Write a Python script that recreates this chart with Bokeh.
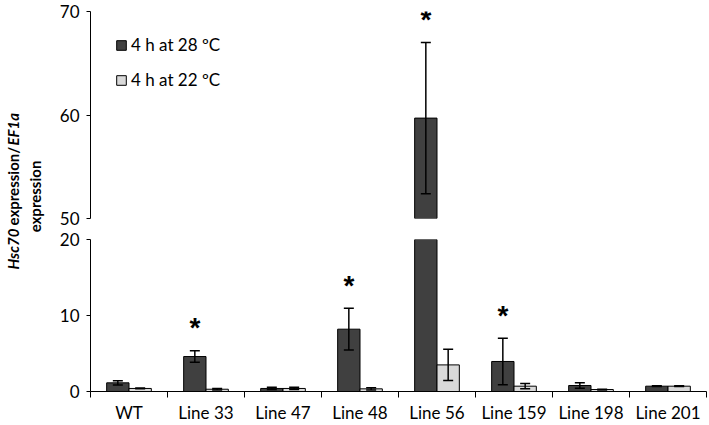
from math import pi
from bokeh.plotting import figure
from bokeh.models import (ColumnDataSource, Range1d, FixedTicker, Whisker, TeeHead,
                          Legend, LegendItem, Label)
from bokeh.layouts import row, column
from bokeh.embed import file_html
from bokeh.resources import INLINE
from bokeh.core.properties import value

# ---------------- data ----------------
categories = ["WT", "Line 33", "Line 47", "Line 48", "Line 56", "Line 159", "Line 198", "Line 201"]
mean_28 = [1.14, 4.6, 0.4, 8.2, 59.7, 3.95, 0.79, 0.7]
sem_28 = [0.28, 0.75, 0.15, 2.75, 7.3, 3.05, 0.35, 0.05]
mean_22 = [0.4, 0.3, 0.4, 0.35, 3.5, 0.7, 0.26, 0.7]
sem_22 = [0.05, 0.1, 0.15, 0.15, 2.05, 0.35, 0.05, 0.05]
significant = [False, True, False, True, True, True, False, False]
series_labels = ["4 h at 28 \u00baC", "4 h at 22 \u00baC"]
low_ticks = [0, 10, 20]
high_ticks = [50, 60, 70]

# ---------------- style ----------------
FONT = "Lato"
DARK = "#404040"
LIGHT = "#d9d9d9"
BW = 0.29
OFF = 0.145
LOW_MAX = low_ticks[-1]
HIGH_MIN = high_ticks[0]
NAN = float("nan")

n = len(categories)
xs_c = list(range(n))
x_range = Range1d(-0.5, n - 0.5)


def style_yaxis(p, ticks):
    ax = p.yaxis[0]
    ax.ticker = FixedTicker(ticks=ticks)
    ax.major_tick_out = 4
    ax.major_tick_in = 0
    ax.minor_tick_out = 0
    ax.minor_tick_in = 0
    ax.axis_line_color = "black"
    ax.major_tick_line_color = "black"
    ax.major_label_text_font = FONT
    ax.major_label_text_font_size = "17px"
    ax.major_label_text_color = "black"
    ax.major_label_standoff = 7


def base_fig(height, y0, y1, top_b, bot_b, xaxis):
    p = figure(width=663, height=height, x_range=x_range, y_range=Range1d(y0, y1),
               output_backend="svg", toolbar_location=None,
               x_axis_location=("below" if xaxis else None),
               min_border_left=44, min_border_right=3,
               min_border_top=top_b, min_border_bottom=bot_b)
    p.outline_line_color = None
    p.xgrid.visible = False
    p.ygrid.visible = False
    p.background_fill_color = "white"
    return p


top = base_fig(228, HIGH_MIN, high_ticks[-1], 11, 10, False)
bot = base_fig(197, 0, LOW_MAX, 11, 33, True)
style_yaxis(top, high_ticks)
style_yaxis(bot, low_ticks)

xa = bot.xaxis[0]
xa.ticker = FixedTicker(ticks=xs_c, minor_ticks=[i - 0.5 for i in range(n + 1)])
xa.major_label_overrides = {i: c for i, c in enumerate(categories)}
xa.major_tick_out = 0
xa.major_tick_in = 0
xa.minor_tick_out = 6
xa.minor_tick_in = 0
xa.minor_tick_line_color = "black"
xa.axis_line_color = "black"
xa.major_label_text_font = FONT
xa.major_label_text_font_size = "17px"
xa.major_label_text_color = "black"
xa.major_label_standoff = 4


def whisker(src):
    w = Whisker(source=src, base="x", lower="lower", upper="upper", dimension="height",
                line_color="black", line_width=1.5,
                upper_head=TeeHead(size=10, line_width=1.5, line_color="black"),
                lower_head=TeeHead(size=10, line_width=1.5, line_color="black"))
    w.level = "overlay"
    return w


renderers_top = []
for means, sems, dx, color in [(mean_28, sem_28, -OFF, DARK), (mean_22, sem_22, OFF, LIGHT)]:
    xs = [c + dx for c in xs_c]
    # lower panel
    src_low = ColumnDataSource(dict(x=xs, top=[min(m, LOW_MAX) for m in means]))
    bot.vbar(x="x", top="top", bottom=0, width=BW, source=src_low,
             fill_color=color, line_color="black", line_width=1)
    wl = [(x, m - s, m + s) for x, m, s in zip(xs, means, sems) if m + s <= LOW_MAX]
    bot.add_layout(whisker(ColumnDataSource(dict(x=[w[0] for w in wl], lower=[w[1] for w in wl],
                                                 upper=[w[2] for w in wl]))))
    # upper panel (only values above the break are shown)
    src_hi = ColumnDataSource(dict(x=xs, top=[m if m > HIGH_MIN else NAN for m in means]))
    r = top.vbar(x="x", top="top", bottom=HIGH_MIN, width=BW, source=src_hi,
                 fill_color=color, line_color="black", line_width=1)
    renderers_top.append(r)
    hi = [(x, m, s) for x, m, s in zip(xs, means, sems) if m > HIGH_MIN]
    top.add_layout(whisker(ColumnDataSource(dict(x=[h[0] for h in hi],
                                                 lower=[max(h[1] - h[2], HIGH_MIN) for h in hi],
                                                 upper=[h[1] + h[2] for h in hi]))))

# significance stars
star_lo = dict(x=[], y=[])
star_hi = dict(x=[], y=[])
for i, (m, s, sig) in enumerate(zip(mean_28, sem_28, significant)):
    if not sig:
        continue
    d = star_hi if m + s > HIGH_MIN else star_lo
    d["x"].append(xs_c[i] - OFF)
    d["y"].append(m + s)
for p, d in [(bot, star_lo), (top, star_hi)]:
    p.text(x="x", y="y", text=value("*"), source=ColumnDataSource(d), text_align="center",
           text_baseline="middle", y_offset=-23, text_font=value("Liberation Sans"),
           text_font_style="bold", text_font_size="28px", text_color="black")

legend = Legend(items=[LegendItem(label=series_labels[0], renderers=[renderers_top[0]]),
                       LegendItem(label=series_labels[1], renderers=[renderers_top[1]])],
                location=(25, 128), glyph_width=12, glyph_height=12, label_height=12,
                label_standoff=4, spacing=14, padding=0, margin=0,
                border_line_color=None, background_fill_alpha=0,
                label_text_font=FONT, label_text_font_size="17px", label_text_color="black")
top.add_layout(legend)

# y-axis title (rotated, mixed styles)
lab = figure(width=46, height=425, x_range=Range1d(0, 46), y_range=Range1d(0, 425),
             output_backend="svg", toolbar_location=None, x_axis_location=None,
             y_axis_location=None, min_border=0)
lab.outline_line_color = None
lab.xgrid.visible = False
lab.ygrid.visible = False

center_y = 235
pieces = [("Hsc70", "bold italic", 44), ("expression/", "bold", 80), ("EF1a", "bold italic", 34)]
total = sum(w for _, _, w in pieces)
ypos = center_y - total / 2
for txt, style, w in pieces:
    lab.add_layout(Label(x=12, y=ypos, text=txt, angle=pi / 2, text_align="left",
                         text_baseline="middle", text_font=FONT, text_font_style=style,
                         text_font_size="15px", text_color="black"))
    ypos += w
lab.add_layout(Label(x=34, y=center_y - 6, text="expression", angle=pi / 2, text_align="center",
                     text_baseline="middle", text_font=FONT, text_font_style="bold",
                     text_font_size="15px", text_color="black"))

layout = row(lab, column(top, bot, spacing=0), spacing=0)
open("out.html", "w").write(file_html(layout, INLINE))
